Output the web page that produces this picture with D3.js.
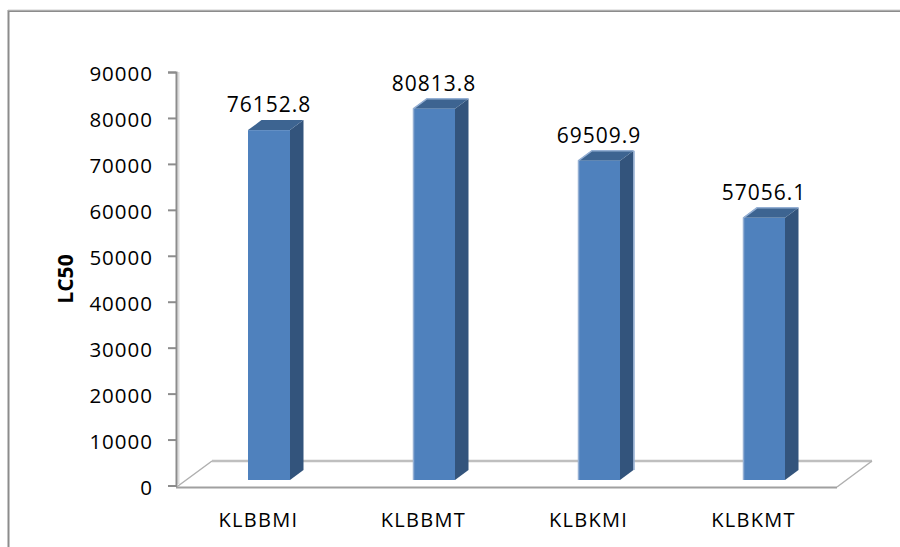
<!DOCTYPE html>
<html><head><meta charset="utf-8">
<script src="https://cdnjs.cloudflare.com/ajax/libs/d3/7.8.5/d3.min.js"></script>
<style>html,body{margin:0;padding:0;background:#fff}svg{display:block}text{font-family:"Open Sans",sans-serif;fill:#000}</style>
</head><body><svg id="c" width="900" height="547"></svg>
<script>
const categories=["KLBBMI","KLBBMT","KLBKMI","KLBKMT"];
const values=[76152.8,80813.8,69509.9,57056.1];
const valueLabels=["76152.8","80813.8","69509.9","57056.1"];
const yTicks=[0,10000,20000,30000,40000,50000,60000,70000,80000,90000];
const svg=d3.select("#c");
const x=d3.scaleBand().domain(categories).range([176,836]).paddingInner(0).paddingOuter(0);
const y=d3.scaleLinear().domain([0,90000]).range([485.5,72]);
const dx=13.5,dy=10,barW=42,barShift=-5.5,barOff=-10.5;
// frame
svg.append("path").attr("d","M8.5,547V11H900").attr("fill","none").attr("stroke","#8c8c8c").attr("stroke-width",2);
svg.append("path").attr("d","M8,10H900").attr("stroke","#d0d0d0").attr("stroke-width",1);
// wall + floor
svg.append("line").attr("x1",178.5).attr("x2",178.5).attr("y1",72).attr("y2",484).attr("stroke","#dcdcdc").attr("stroke-width",2);
svg.append("line").attr("x1",212).attr("x2",872).attr("y1",461).attr("y2",461).attr("stroke","#bfbfbf").attr("stroke-width",2.5);
svg.append("path").attr("d","M178,486L212,461M837,487L872,461").attr("fill","none").attr("stroke","#b0b0b0").attr("stroke-width",1.5);
svg.append("line").attr("x1",176).attr("x2",837).attr("y1",487.5).attr("y2",487.5).attr("stroke","#a0a0a0").attr("stroke-width",2);
// axis
const ax=svg.append("g").attr("transform","translate(176,0)").call(d3.axisLeft(y).tickValues(yTicks).tickSize(8).tickPadding(15).tickFormat(d3.format("d")));
ax.select(".domain").attr("stroke","#8c8c8c").attr("stroke-width",2);
ax.selectAll(".tick line").attr("stroke","#8c8c8c").attr("stroke-width",2);
ax.selectAll("text").attr("font-size",20.5).attr("letter-spacing",1).attr("dy","0.42em").attr("fill","#000").style("font-family",'"Open Sans",sans-serif');
// x labels
svg.selectAll("text.cat").data(categories).join("text").attr("class","cat")
 .attr("x",d=>x(d)+x.bandwidth()/2).attr("y",526.5).attr("text-anchor","middle").attr("font-size",20).attr("letter-spacing",1.3).text(d=>d);
// bars
const g=svg.selectAll("g.bar").data(values.map((v,i)=>({v,c:categories[i],l:valueLabels[i],i}))).join("g").attr("class","bar");
const fx=d=>x(d.c)+x.bandwidth()/2+barOff;
const barTop=d=>y(d.v)+barShift, barBot=()=>y(0)+barShift;
g.append("path").attr("fill","#33547c").attr("d",d=>{const r=fx(d)+barW;return `M${r},${barTop(d)}L${r+dx},${barTop(d)-dy}V${barBot()-dy}L${r},${barBot()}Z`});
g.append("path").attr("fill","#3d6491").attr("d",d=>{const l=fx(d),r=l+barW,t=barTop(d);return `M${l},${t}L${l+dx},${t-dy}H${r+dx}L${r},${t}Z`});
g.append("rect").attr("fill","#4f81bd").attr("x",fx).attr("y",barTop).attr("width",barW).attr("height",d=>barBot()-barTop(d));
// pale edges on the later bars
g.filter(d=>d.i>0).append("path").attr("fill","none").attr("stroke","#94afd3").attr("stroke-width",1.5)
 .attr("d",d=>{const l=fx(d)+.5,t=barTop(d);return `M${l},${barBot()}V${t}L${l+dx},${t-dy}H${l+barW+dx-.5}`});
g.filter(d=>d.i===2).append("path").attr("fill","none").attr("stroke","#94afd3").attr("stroke-width",1.5)
 .attr("d",d=>{const r=fx(d)+barW+dx+.5;return `M${r},${barTop(d)-dy}V${barBot()-dy}`});
g.append("text").attr("x",d=>fx(d)+barW/2).attr("y",d=>barTop(d)-18).attr("text-anchor","middle").attr("font-size",21).attr("letter-spacing",1).text(d=>d.l);
// y title
svg.append("text").attr("transform","translate(73,279) rotate(-90)").attr("text-anchor","middle").attr("font-size",21).attr("font-weight",700).text("LC50");
</script></body></html>
